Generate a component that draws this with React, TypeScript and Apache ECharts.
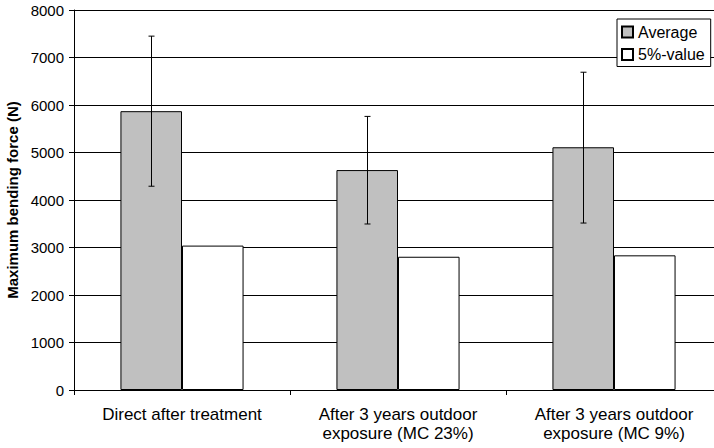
import React, { useEffect, useRef } from "react";
import * as echarts from "echarts";

const categories = [
  "Direct after treatment",
  "After 3 years outdoor\nexposure (MC 23%)",
  "After 3 years outdoor\nexposure (MC 9%)",
];
const averageValues = [5870, 4630, 5110];
const fivePercentValues = [3040, 2805, 2835];
const errorLow = [4290, 3495, 3515];
const errorHigh = [7450, 5760, 6690];
const yTicks = { min: 0, max: 8000, interval: 1000 };

const FONT = "'Liberation Sans', Arial, Helvetica, sans-serif";
const CAT_GAP = 0.43;

export default function App() {
  const ref = useRef<HTMLDivElement>(null);

  useEffect(() => {
    if (!ref.current) return;
    const chart = echarts.init(ref.current, undefined, { renderer: "svg" });
    const errorData = categories.map((_, i) => [i, errorLow[i], errorHigh[i]]);

    chart.setOption({
      animation: false,
      backgroundColor: "#fff",
      textStyle: { fontFamily: FONT, color: "#000" },
      grid: {
        left: 74,
        top: 10,
        width: 648,
        height: 380,
        containLabel: false,
        outerBoundsMode: "none",
      },
      legend: {
        data: ["Average", "5%-value"],
        orient: "vertical",
        left: 617,
        top: 19,
        padding: [4, 6, 3, 4],
        itemGap: 4.5,
        itemWidth: 11,
        itemHeight: 11,
        icon: "rect",
        backgroundColor: "#fff",
        borderColor: "#000",
        borderWidth: 1,
        textStyle: { fontFamily: FONT, fontSize: 16, color: "#000", lineHeight: 18 },
      },
      xAxis: {
        type: "category",
        data: categories,
        axisLine: { show: true, lineStyle: { color: "#000", width: 1 } },
        axisTick: { show: true, length: 5, lineStyle: { color: "#000" } },
        axisLabel: {
          fontFamily: FONT,
          fontSize: 17,
          color: "#000",
          lineHeight: 19,
          margin: 15,
          interval: 0,
        },
      },
      yAxis: {
        type: "value",
        min: yTicks.min,
        max: yTicks.max,
        interval: yTicks.interval,
        name: "Maximum bending force (N)",
        nameLocation: "middle",
        nameGap: 53,
        nameTextStyle: { fontFamily: FONT, fontSize: 15, fontWeight: "bold", color: "#000" },
        axisLine: { show: true, lineStyle: { color: "#000", width: 1 } },
        axisTick: { show: true, length: 5, lineStyle: { color: "#000" } },
        axisLabel: {
          fontFamily: FONT,
          fontSize: 15,
          color: "#000",
          margin: 10,
          formatter: (v: number) => String(v),
        },
        splitLine: { show: true, lineStyle: { color: "#000", width: 1 } },
      },
      series: [
        {
          name: "Average",
          type: "bar",
          data: averageValues,
          barGap: "0%",
          barCategoryGap: CAT_GAP * 100 + "%",
          itemStyle: { color: "#c0c0c0", borderColor: "#000", borderWidth: 1 },
        },
        {
          name: "5%-value",
          type: "bar",
          data: fivePercentValues,
          itemStyle: { color: "#fff", borderColor: "#000", borderWidth: 1 },
        },
        {
          name: "error",
          type: "custom",
          data: errorData,
          encode: { x: 0, y: [1, 2] },
          z: 10,
          renderItem: (params: any, api: any) => {
            const idx = api.value(0);
            const lo = api.coord([idx, api.value(1)]);
            const hi = api.coord([idx, api.value(2)]);
            const band = api.size([1, 0])[0];
            const offset = -(band * (1 - CAT_GAP)) / 4;
            const x = Math.round(lo[0] + offset) + 0.5;
            const cap = 3;
            const style = { stroke: "#000", lineWidth: 1 };
            return {
              type: "group",
              children: [
                { type: "line", shape: { x1: x, y1: hi[1], x2: x, y2: lo[1] }, style },
                { type: "line", shape: { x1: x - cap, y1: hi[1], x2: x + cap, y2: hi[1] }, style },
                { type: "line", shape: { x1: x - cap, y1: lo[1], x2: x + cap, y2: lo[1] }, style },
              ],
            };
          },
        },
      ],
    });

    return () => chart.dispose();
  }, []);

  return <div ref={ref} style={{ width: 714, height: 448, position: "absolute", left: 0, top: 0 }} />;
}
